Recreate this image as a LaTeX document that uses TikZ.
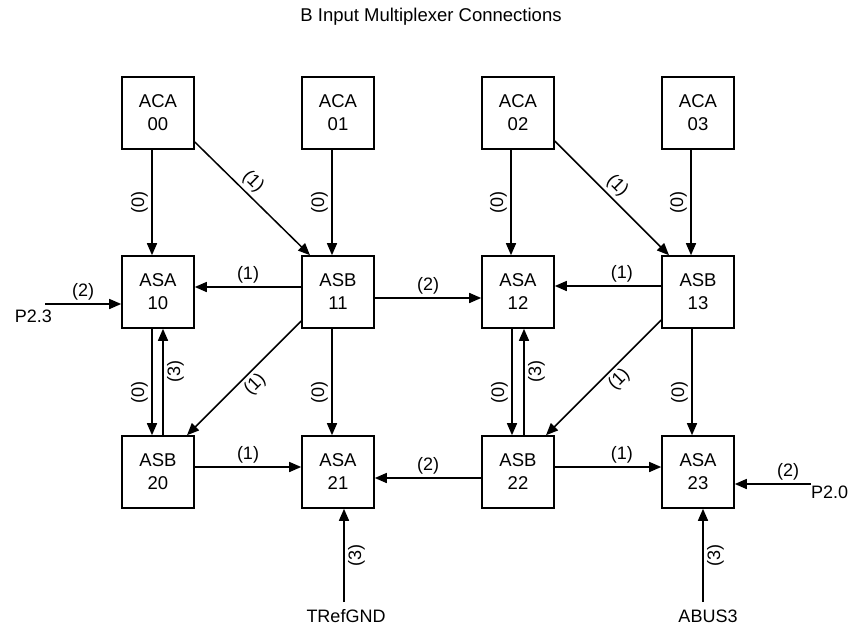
\documentclass[tikz,border=0pt]{standalone}
\usepackage{fontspec}
\setmainfont{Liberation Sans}
\usetikzlibrary{arrows.meta}

\tikzset{
  mux/.style={draw, line width=1.6pt, minimum width=72pt, minimum height=72pt,
    align=center, font=\fontsize{18.5}{23}\selectfont},
  conn/.style={line width=1.5pt, -{Triangle[length=12pt,width=10pt]}},
  lbl/.style={font=\fontsize{18}{21}\selectfont, sloped, above},
  lblr/.style={font=\fontsize{18}{21}\selectfont, sloped, below},
  vlbl/.style={font=\fontsize{18}{21}\selectfont, rotate=90, anchor=south},
  vlblr/.style={font=\fontsize{18}{21}\selectfont, rotate=90, anchor=north},
  pin/.style={font=\fontsize{18}{21}\selectfont, inner sep=0pt},
}

\begin{document}
\begin{tikzpicture}[x=1pt,y=-1pt]
	\useasboundingbox (0,0) rectangle (851,626);
	\node[font=\fontsize{18.5}{22}\selectfont] (title) at (431,17) {B Input Multiplexer Connections};
	\begin{scope}[every node/.style={mux}]
		\node (aca00) at (158,113) {ACA\\00};
		\node (aca01) at (338,113) {ACA\\01};
		\node (aca02) at (518,113) {ACA\\02};
		\node (aca03) at (698,113) {ACA\\03};
		\node (asa10) at (158,292) {ASA\\10};
		\node (asb11) at (338,292) {ASB\\11};
		\node (asa12) at (518,292) {ASA\\12};
		\node (asb13) at (698,292) {ASB\\13};
		\node (asb20) at (158,472) {ASB\\20};
		\node (asa21) at (338,472) {ASA\\21};
		\node (asb22) at (518,472) {ASB\\22};
		\node (asa23) at (698,472) {ASA\\23};
	\end{scope}
	% outside inputs
	\coordinate (p23) at (45,304);
	\coordinate (p20) at (811,484);
	\coordinate (gnd) at (344,602);
	\coordinate (abus) at (703,602);
	\node[pin, anchor=base east] (p23txt) at (52,322) {P2.3};
	\node[pin, anchor=base west] (p20txt) at (811,498) {P2.0};
	\node[pin, anchor=base] (gndtxt) at (346,622) {TRefGND};
	\node[pin, anchor=base] (abustxt) at (708,622) {ABUS3};
	\begin{scope}[every path/.style={conn}]
		% left half
		\draw ([xshift=-6pt]aca00.south) -- node[vlbl] {(0)} ([xshift=-6pt]asa10.north);
		\draw ([xshift=-6pt]aca01.south) -- node[vlbl] {(0)} ([xshift=-6pt]asb11.north);
		\draw ([yshift=-29pt]aca00.east) -- node[lbl, pos=0.43] {(1)} ([xshift=-28pt]asb11.north);
		\draw ([yshift=5pt]asb11.west) -- node[lbl] {(1)} ([yshift=5pt]asa10.east);
		\draw (p23) -- node[lbl] {(2)} ([yshift=-12pt]asa10.west);
		\draw ([xshift=-6pt]asa10.south) -- node[vlbl, pos=0.6] {(0)} ([xshift=-6pt]asb20.north);
		\draw ([xshift=5pt]asb20.north) -- node[vlblr, pos=0.6] {(3)} ([xshift=5pt]asa10.south);
		\draw ([yshift=-29pt]asb11.west) -- node[lblr, pos=0.48] {(1)} ([xshift=29pt]asb20.north);
		\draw ([xshift=-6pt]asb11.south) -- node[vlbl, pos=0.6] {(0)} ([xshift=-6pt]asa21.north);
		\draw ([yshift=5pt]asb20.east) -- node[lbl] {(1)} ([yshift=5pt]asa21.west);
		\draw (gnd) -- node[vlblr] {(3)} ([xshift=6pt]asa21.south);
		% middle
		\draw ([yshift=-6pt]asb11.east) -- node[lbl] {(2)} ([yshift=-6pt]asa12.west);
		\draw ([yshift=-6pt]asb22.west) -- node[lbl] {(2)} ([yshift=-6pt]asa21.east);
		% right half
		\draw ([xshift=-7pt]aca02.south) -- node[vlbl] {(0)} ([xshift=-7pt]asa12.north);
		\draw ([xshift=-7pt]aca03.south) -- node[vlbl] {(0)} ([xshift=-7pt]asb13.north);
		\draw ([yshift=-28pt]aca02.east) -- node[lbl, pos=0.47] {(1)} ([xshift=-29pt]asb13.north);
		\draw ([yshift=6pt]asb13.west) -- node[lbl, pos=0.37] {(1)} ([yshift=6pt]asa12.east);
		\draw ([xshift=-6pt]asa12.south) -- node[vlbl, pos=0.6] {(0)} ([xshift=-6pt]asb22.north);
		\draw ([xshift=6pt]asb22.north) -- node[vlblr, pos=0.6] {(3)} ([xshift=6pt]asa12.south);
		\draw ([yshift=-28pt]asb13.west) -- node[lblr, pos=0.44] {(1)} ([xshift=28pt]asb22.north);
		\draw ([xshift=-6pt]asb13.south) -- node[vlbl, pos=0.6] {(0)} ([xshift=-6pt]asa23.north);
		\draw ([yshift=5pt]asb22.east) -- node[lbl, pos=0.63] {(1)} ([yshift=5pt]asa23.west);
		\draw (p20) -- node[lbl, pos=0.3] {(2)} ([yshift=-12pt]asa23.east);
		\draw (abus) -- node[vlblr] {(3)} ([xshift=5pt]asa23.south);
	\end{scope}
\end{tikzpicture}
\end{document}
